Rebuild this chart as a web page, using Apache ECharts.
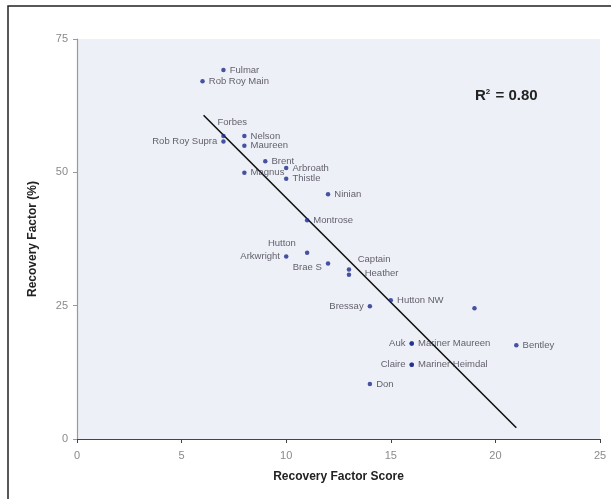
<!DOCTYPE html>
<html>
<head>
<meta charset="utf-8">
<script src="https://cdn.jsdelivr.net/npm/echarts@6/dist/echarts.min.js"></script>
<style>
html,body{margin:0;padding:0;background:#fff;}
#chart{width:611px;height:499px;}
</style>
</head>
<body>
<div id="chart"></div>
<script>
// ---- data ----
var fieldNames = ['Fulmar','Rob Roy Main','Forbes','Rob Roy Supra','Nelson','Maureen','Brent','Arbroath','Thistle','Magnus','Ninian','Montrose','Hutton','Arkwright','Brae S','Captain','Heather','Hutton NW','Bressay','','Auk','Mariner Maureen','Bentley','Claire','Mariner Heimdal','Don'];
var scoreValues = [7,6,7,7,8,8,9,10,10,8,12,11,11,10,12,13,13,15,14,19,16,16,21,16,16,14];
var recoveryValues = [69.2,67.1,56.8,55.8,56.8,55.0,52.1,50.8,48.8,49.9,45.9,41.0,34.9,34.2,32.9,31.8,30.8,26.0,24.9,24.5,17.9,17.9,17.6,13.9,13.9,10.3];
var trendX = [6.05,21.0];
var trendY = [60.7,2.1];
var xTicks = [0,5,10,15,20,25];
var yTicks = [0,25,50,75];
var rSquared = '0.80';

// ---- label placement (styling only) ----
var labelStyle = {
  'Forbes': {position:[11,-11], align:'center', verticalAlign:'middle'},
  'Rob Roy Supra': {position:'left'},
  'Hutton': {position:[-23,-7], align:'center', verticalAlign:'middle'},
  'Arkwright': {position:'left'},
  'Brae S': {position:[-4,6], align:'right', verticalAlign:'middle'},
  'Captain': {position:[11,-8], align:'left', verticalAlign:'middle'},
  'Heather': {position:[18,1], align:'left', verticalAlign:'middle'},
  'Bressay': {position:'left'},
  'Auk': {position:'left'},
  'Claire': {position:'left'}
};

var pts = fieldNames.map(function(n,i){
  var item = {name:n, value:[scoreValues[i], recoveryValues[i]]};
  if (labelStyle[n]) item.label = labelStyle[n];
  return item;
});

var chart = echarts.init(document.getElementById('chart'));
var font = 'Liberation Sans, Arial, sans-serif';
chart.setOption({
  backgroundColor:'#fff',
  animation:false,
  textStyle:{fontFamily:font},
  grid:{left:77, top:39, right:11, bottom:60, show:true, backgroundColor:'#edf0f6', borderWidth:0},
  xAxis:{
    type:'value', min:xTicks[0], max:xTicks[xTicks.length-1], interval:5,
    axisLine:{show:true, lineStyle:{color:'#444', width:1.2}},
    axisTick:{show:true, length:4, inside:false, lineStyle:{color:'#444'}},
    axisLabel:{color:'#8a8a8a', fontSize:11, margin:11, fontFamily:font},
    splitLine:{show:false},
    name:'Recovery Factor Score', nameLocation:'middle', nameGap:32,
    nameTextStyle:{fontWeight:'bold', fontSize:12, color:'#222', fontFamily:font}
  },
  yAxis:{
    type:'value', min:yTicks[0], max:yTicks[yTicks.length-1], interval:25,
    axisLine:{show:true, lineStyle:{color:'#999', width:1.2}},
    axisTick:{show:true, length:4, inside:false, lineStyle:{color:'#999'}},
    axisLabel:{color:'#8a8a8a', fontSize:11, margin:9, fontFamily:font},
    splitLine:{show:false},
    name:'Recovery Factor (%)', nameLocation:'middle', nameGap:38,
    nameTextStyle:{fontWeight:'bold', fontSize:12, color:'#222', fontFamily:font}
  },
  series:[
    {
      type:'line', data:trendX.map(function(x,i){return [x,trendY[i]];}),
      symbol:'none', lineStyle:{color:'#111', width:1.6}, z:3, silent:true
    },
    {
      type:'scatter', data:pts, symbolSize:4.5,
      itemStyle:{color:'#1c2a8c'},
      label:{show:true, position:'right', distance:4, formatter:'{b}', fontSize:9.5, color:'#3d3a48', fontFamily:font},
      z:4
    }
  ],
  graphic:[
    {type:'text', left:475, top:88, style:{
      text:'{r|R}{s|2}{r| = }{r|' + rSquared + '}',
      rich:{r:{fontSize:15, fontWeight:'bold', fill:'#222', fontFamily:font},
            s:{fontSize:8, fontWeight:'bold', fill:'#222', fontFamily:font, verticalAlign:'top', padding:[0,1,7,0]}}
    }},
    {type:'rect', shape:{x:8, y:6, width:640, height:520}, style:{fill:'none', stroke:'#222', lineWidth:1.5}, silent:true}
  ]
});
</script>
</body>
</html>
